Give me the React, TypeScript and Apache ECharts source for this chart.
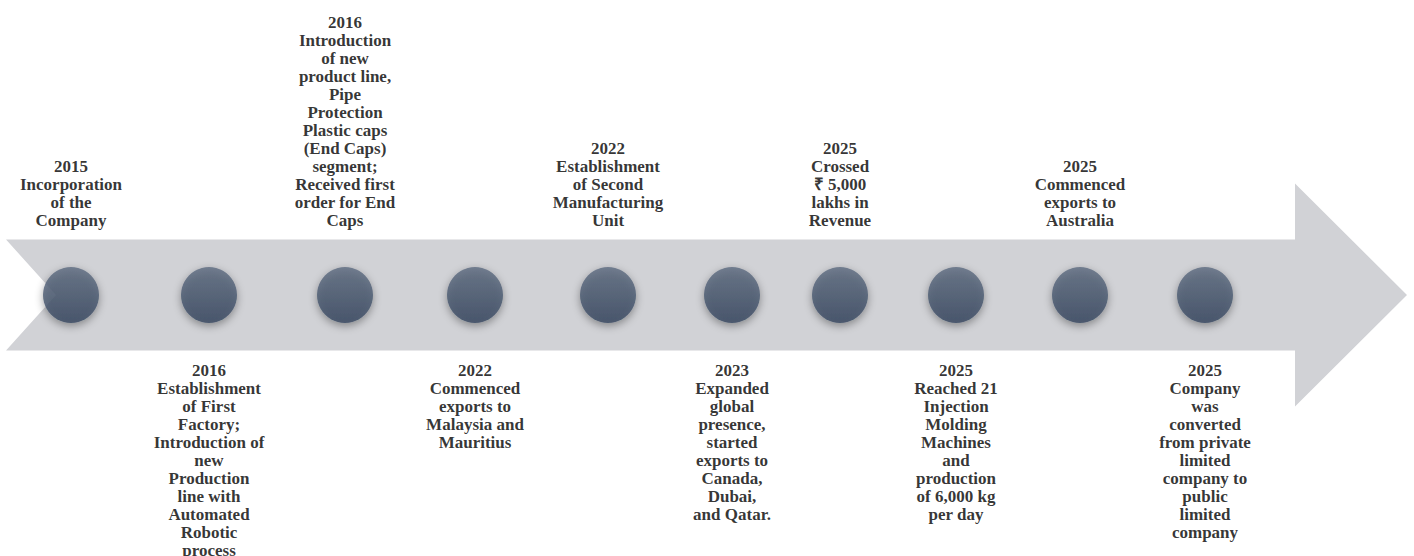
import React, { useEffect, useRef } from "react";
import * as echarts from "echarts";

// Milestones along the timeline (left to right)
const milestoneYears = ["2015", "2016", "2016", "2022", "2022", "2023", "2025", "2025", "2025", "2025"];
const milestoneTexts = [
  "Incorporation\nof the\nCompany",
  "Establishment\nof First\nFactory;\nIntroduction of\nnew\nProduction\nline with\nAutomated\nRobotic\nprocess",
  "Introduction\nof new\nproduct line,\nPipe\nProtection\nPlastic caps\n(End Caps)\nsegment;\nReceived first\norder for End\nCaps",
  "Commenced\nexports to\nMalaysia and\nMauritius",
  "Establishment\nof Second\nManufacturing\nUnit",
  "Expanded\nglobal\npresence,\nstarted\nexports to\nCanada,\nDubai,\nand Qatar.",
  "Crossed\n₹ 5,000\nlakhs in\nRevenue",
  "Reached 21\nInjection\nMolding\nMachines\nand\nproduction\nof 6,000 kg\nper day",
  "Commenced\nexports to\nAustralia",
  "Company\nwas\nconverted\nfrom private\nlimited\ncompany to\npublic\nlimited\ncompany",
];
// Position of each milestone along the track (axis units)
const milestonePos = [71, 209, 345, 475, 608, 732, 840, 956, 1080, 1205];
// Label side: above or below the track
const milestoneSide = ["top", "bottom", "top", "bottom", "top", "bottom", "top", "bottom", "top", "bottom"];

const TRACK_Y = 295;
const ARROW = { left: 6, notch: 56, bodyEnd: 1295, tip: 1407, bodyHalf: 55.5, headHalf: 111.5 };
const FONT = "Liberation Serif";

export default function App() {
  const ref = useRef<HTMLDivElement>(null);
  useEffect(() => {
    if (!ref.current) return;
    const chart = echarts.init(ref.current, null, { renderer: "svg" });
    const option: any = {
      animation: false,
      backgroundColor: "#ffffff",
      textStyle: { fontFamily: FONT },
      grid: { left: 0, right: 0, top: 0, bottom: 0 },
      xAxis: { type: "value", min: 0, max: 1414, show: false },
      yAxis: { type: "value", min: 0, max: 556, inverse: true, show: false },
      series: [
        {
          type: "custom",
          silent: true,
          z: 1,
          data: [[0]],
          renderItem: (params: any, api: any) => {
            const y = TRACK_Y;
            const pts = [
              [ARROW.left, y - ARROW.bodyHalf],
              [ARROW.bodyEnd, y - ARROW.bodyHalf],
              [ARROW.bodyEnd, y - ARROW.headHalf],
              [ARROW.tip, y],
              [ARROW.bodyEnd, y + ARROW.headHalf],
              [ARROW.bodyEnd, y + ARROW.bodyHalf],
              [ARROW.left, y + ARROW.bodyHalf],
              [ARROW.notch, y],
            ].map((p) => api.coord(p));
            return {
              type: "polygon",
              shape: { points: pts },
              style: { fill: "#d1d2d6" },
            };
          },
        },
        {
          type: "scatter",
          z: 5,
          symbol: "circle",
          symbolSize: 56,
          itemStyle: {
            color: new echarts.graphic.LinearGradient(0, 0, 0, 1, [
              { offset: 0, color: "#5c6a7f" },
              { offset: 1, color: "#36465f" },
            ]),
            shadowBlur: 8,
            shadowColor: "rgba(0,0,0,0.45)",
            shadowOffsetY: 3,
          },
          label: {
            show: true,
            distance: 38,
            color: "#000000",
            fontFamily: FONT,
            fontWeight: "bold",
            fontSize: 17,
            lineHeight: 18,
            align: "center",
          },
          data: milestonePos.map((x, i) => ({
            value: [x, TRACK_Y],
            label: {
              position: milestoneSide[i],
              formatter: milestoneYears[i] + "\n" + milestoneTexts[i],
            },
          })),
        },
      ],
    };
    chart.setOption(option);
    return () => chart.dispose();
  }, []);
  return (
    <div
      ref={ref}
      style={{ position: "fixed", left: 0, top: 0, width: 1414, height: 556, background: "#fff" }}
    />
  );
}
